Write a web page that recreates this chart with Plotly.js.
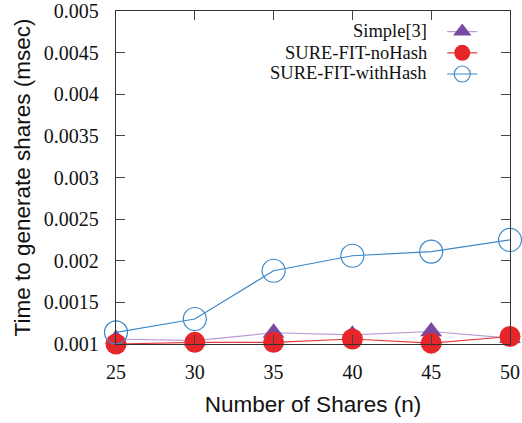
<!DOCTYPE html>
<html>
<head>
<meta charset="utf-8">
<script src="https://cdn.plot.ly/plotly-3.0.1.min.js"></script>
<style>html,body{margin:0;padding:0;background:#fff;}#chart{width:522px;height:423px;}</style>
</head>
<body>
<div id="chart"></div>
<script>
var shares = [25, 30, 35, 40, 45, 50];
var seriesNames = ['Simple[3]', 'SURE-FIT-noHash', 'SURE-FIT-withHash'];
var simpleTimes = [0.00106, 0.00104, 0.001135, 0.00111, 0.00115, 0.00107];
var noHashTimes = [0.001, 0.00102, 0.00102, 0.00106, 0.00101, 0.00109];
var withHashTimes = [0.00114, 0.0013, 0.00188, 0.00206, 0.00211, 0.00225];
var yTicks = [0.001, 0.0015, 0.002, 0.0025, 0.003, 0.0035, 0.004, 0.0045, 0.005];
var yTickText = ['0.001', '0.0015', '0.002', '0.0025', '0.003', '0.0035', '0.004', '0.0045', '0.005'];
var xTicks = [25, 30, 35, 40, 45, 50];

var SERIF = 'Liberation Serif';
var SANS = 'Liberation Sans';

var traces = [
  {x: shares, y: simpleTimes, type: 'scatter', mode: 'lines+markers', name: '',
   line: {color: '#b99ad3', width: 1.2},
   marker: {symbol: 'triangle-up', size: 19, color: '#7a4aa2'}, cliponaxis: false},
  {x: shares, y: noHashTimes, type: 'scatter', mode: 'lines+markers', name: '',
   line: {color: '#e8383b', width: 1.2},
   marker: {symbol: 'circle', size: 21, color: '#e7262b'}, cliponaxis: false},
  {x: shares, y: withHashTimes, type: 'scatter', mode: 'lines+markers', name: '',
   line: {color: '#3d88c8', width: 1.2},
   marker: {symbol: 'circle-open', size: 23, color: '#3d88c8', line: {width: 1.2, color: '#3d88c8'}}, cliponaxis: false}
];

var legendRowsY = [0.940, 0.875, 0.815];
var annotations = seriesNames.map(function (n, i) {
  return {text: n, xref: 'paper', yref: 'paper', x: 0.795, y: legendRowsY[i],
    xanchor: 'right', yanchor: 'middle', showarrow: false,
    font: {family: SERIF, size: 18.5, color: '#111'}};
});

var layout = {
  width: 522, height: 423,
  margin: {l: 116, r: 12, t: 11, b: 79},
  paper_bgcolor: '#fff', plot_bgcolor: '#fff',
  font: {family: SERIF, size: 20, color: '#111'},
  showlegend: true,
  legend: {x: 0.828, y: 0.985, xanchor: 'left', yanchor: 'top', bgcolor: 'rgba(0,0,0,0)',
    font: {size: 14}, itemwidth: 30},
  xaxis: {
    showgrid: false, zeroline: false, showline: true, mirror: 'ticks',
    linecolor: '#333', linewidth: 1.3, ticks: 'inside', ticklen: 9, tickwidth: 1.2, tickcolor: '#444',
    tickfont: {family: SERIF, size: 20, color: '#111'}, ticklabeloverflow: 'allow',
    range: [25, 50], tickmode: 'array', tickvals: xTicks, ticktext: xTicks.map(String), ticklabelstandoff: 10,
    title: {text: 'Number of Shares (n)', standoff: 14,
      font: {family: SANS, size: 22.5, color: '#111'}}
  },
  yaxis: {
    showgrid: false, zeroline: false, showline: true, mirror: 'ticks',
    linecolor: '#333', linewidth: 1.3, ticks: 'inside', ticklen: 9, tickwidth: 1.2, tickcolor: '#444',
    tickfont: {family: SERIF, size: 20, color: '#111'}, ticklabeloverflow: 'allow',
    range: [0.001, 0.005], tickmode: 'array', tickvals: yTicks, ticktext: yTickText, ticklabelstandoff: 12,
    title: {text: 'Time to generate shares (msec)', standoff: 6,
      font: {family: SANS, size: 22.5, color: '#111'}}
  },
  annotations: annotations
};

Plotly.newPlot('chart', traces, layout, {displayModeBar: false, staticPlot: true});
</script>
</body>
</html>
